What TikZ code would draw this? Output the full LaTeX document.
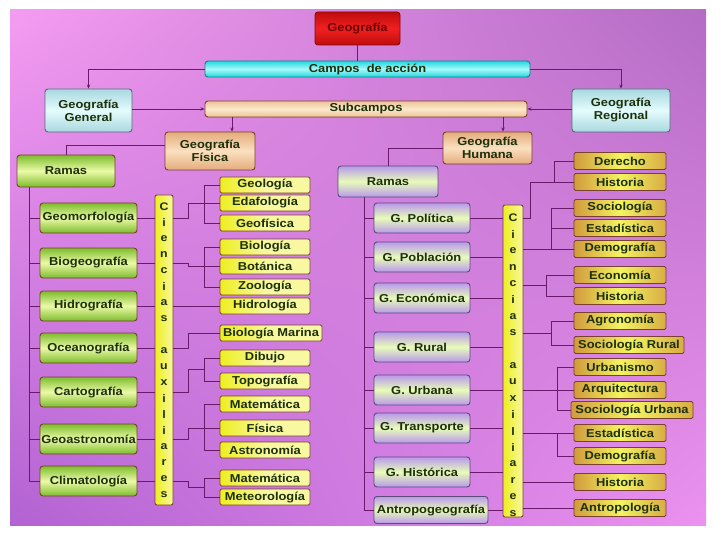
\documentclass[tikz,border=0pt]{standalone}
\usepackage{fontspec}
\newfontfamily\boxfont{Liberation Sans}[FakeStretch=1.12]
\usetikzlibrary{arrows.meta,calc,shadings}

\definecolor{bgTL}{HTML}{F59CF2}
\definecolor{bgTR}{HTML}{B46CC4}
\definecolor{bgBL}{HTML}{B262D2}
\definecolor{bgBR}{HTML}{EC92F0}
\definecolor{linepurple}{HTML}{6A1A6A}
\definecolor{txtgreen}{HTML}{1C300A}
\definecolor{red1}{HTML}{F02020}
\definecolor{red2}{HTML}{C00C0C}
\definecolor{darkred}{HTML}{6A0000}
\definecolor{cyan1}{HTML}{A8F8F8}
\definecolor{cyan2}{HTML}{20D8E0}
\definecolor{celeste1}{HTML}{E4FCFC}
\definecolor{celeste2}{HTML}{A8D8E0}
\definecolor{tan1}{HTML}{FAE0C0}
\definecolor{tan2}{HTML}{E4AC7C}
\definecolor{bar1}{HTML}{FCE8CC}
\definecolor{bar2}{HTML}{ECC498}
\definecolor{green1}{HTML}{ECFAA8}
\definecolor{green2}{HTML}{7CBC2C}
\definecolor{lila1}{HTML}{E8FCB8}
\definecolor{lila2}{HTML}{B898EC}
\definecolor{yel1}{HTML}{F8F8A0}
\definecolor{yel2}{HTML}{EEEE20}
\definecolor{ocre1}{HTML}{F4F460}
\definecolor{ocre2}{HTML}{D09A3C}
\definecolor{brownline}{HTML}{7A4030}

\tikzset{
  conn/.style={draw=linepurple, line width=0.9pt},
  arr/.style={conn, -{Stealth[length=4pt,width=3.5pt]}},
  box/.style={rounded corners=3pt, draw=brownline, line width=0.9pt, inner sep=0pt,
    align=center, text=txtgreen,
    font=\boxfont\bfseries\fontsize{11.5}{13}\selectfont},
  rojo/.style={box, draw=red2!70!black, top color=red2, bottom color=red2, middle color=red1,
    text=darkred, minimum width=85, minimum height=33},
  barcyan/.style={box, draw=cyan2!60!black, top color=cyan2, bottom color=cyan2, middle color=cyan1,
    minimum width=325, minimum height=16},
  bartan/.style={box, top color=bar2, bottom color=bar2, middle color=bar1,
    minimum width=322, minimum height=16},
  celeste/.style={box, draw=celeste2!50!black, top color=celeste2, bottom color=celeste2,
    middle color=celeste1, minimum width=87, minimum height=43},
  tan/.style={box, top color=tan2, bottom color=tan2, middle color=tan1,
    minimum width=90, minimum height=38},
  verde/.style={box, top color=green2, bottom color=green2, middle color=green1,
    minimum width=97, minimum height=30},
  lila/.style={box, draw=lila2!50!black, top color=lila2, bottom color=lila2, middle color=lila1,
    minimum width=96, minimum height=30},
  auxL/.style={box, rounded corners=1.5pt, left color=yel2, right color=yel1, middle color=yel1,
    minimum width=90, minimum height=16},
  auxR/.style={box, rounded corners=1.5pt, left color=ocre2, right color=ocre2!80!ocre1, middle color=ocre1,
    minimum width=92, minimum height=17},
  cbar/.style={box, rounded corners=2pt, left color=yel2, right color=yel1,
    minimum width=18},
  letra/.style={inner sep=0pt, text=txtgreen, font=\boxfont\bfseries\fontsize{11}{11}\selectfont}
}

\begin{document}
\begin{tikzpicture}[x=1pt,y=-1pt]
\useasboundingbox (0,0) rectangle (720,540);

% background
\shade [upper left=bgTL, upper right=bgTR, lower left=bgBL, lower right=bgBR] (10,10) rectangle (706,525);

% top of the map
\node [rojo] (geo) at (357.5,28.5) {Geografía};
\node [barcyan] (campos) at (367.5,69) {Campos\ \ de acción};
\node [celeste] (gral) at (88.5,110.5) {Geografía\\General};
\node [celeste, minimum width=98] (reg) at (621,110.5) {Geografía\\Regional};
\node [bartan] (subc) at (366,109) {Subcampos};
\node [tan] (fisica) at (210,151) {Geografía\\Física};
\node [tan, minimum width=89, minimum height=32] (humana) at (487.5,148) {Geografía\\Humana};
\node [verde, minimum width=98, minimum height=32] (ramasL) at (66,171) {Ramas};
\node [lila, minimum width=100, minimum height=31] (ramasR) at (388,181.5) {Ramas};

\draw [conn] (geo.south) -- (geo.south |- campos.north);
\draw [arr] (campos.west) -| (gral.north);
\draw [arr] (campos.east) -| (reg.north);
\draw [arr] (gral.east |- subc.west) -- (subc.west);
\draw [arr] (reg.west |- subc.east) -- (subc.east);
\coordinate (fa) at ([xshift=22pt]fisica.north);
\coordinate (ha) at ([xshift=15.5pt]humana.north);
\draw [arr] (fa |- subc.south) -- (fa);
\draw [arr] (ha |- subc.south) -- (ha);
\draw [conn] ([yshift=6pt]fisica.west) -| (ramasL.north);
\draw [conn] (humana.west) -| (ramasR.north);

% ramas, geografia fisica
\node [verde] (geomorf) at (88.5,218) {Geomorfología};
\node [verde] (biogeo) at (88.5,263) {Biogeografía};
\node [verde] (hidrog) at (88.5,306) {Hidrografía};
\node [verde] (ocean) at (88.5,348) {Oceanografía};
\node [verde] (carto) at (88.5,392) {Cartografía};
\node [verde] (geoastro) at (88.5,439) {Geoastronomía};
\node [verde] (clima) at (88.5,481) {Climatología};

\draw [conn] ([xshift=13pt]ramasL.south west) |- (clima.west);
\foreach \n in {geomorf,biogeo,hidrog,ocean,carto,geoastro}
  \draw [conn] (\n.west) -- ++(-10,0);

% ciencias auxiliares (left)
\node [cbar, minimum height=310] (cienL) at (164,350) {};
\foreach \l [count=\i] in {C,i,e,n,c,i,a,s,{},a,u,x,i,l,i,a,r,e,s}
  \node [letra] (cl\i) at (164,{207+(\i-1)*16}) {\l};

\foreach \n in {geomorf,biogeo,hidrog,ocean,carto,geoastro,clima}
  \draw [conn] (\n.east) -- (\n.east -| cienL.west);

\node [auxL] (geol) at (265,185) {Geología};
\node [auxL] (edaf) at (265,203) {Edafología};
\node [auxL] (geof) at (265,223) {Geofísica};
\node [auxL] (biol) at (265,247) {Biología};
\node [auxL] (bota) at (265,266) {Botánica};
\node [auxL] (zool) at (265,287) {Zoología};
\node [auxL] (hidrol) at (265,306) {Hidrología};
\node [auxL, minimum width=102] (biomar) at (271,333) {Biología Marina};
\node [auxL] (dibu) at (265,358) {Dibujo};
\node [auxL] (topo) at (265,381) {Topografía};
\node [auxL] (mate1) at (265,404) {Matemática};
\node [auxL] (fisi) at (265,428) {Física};
\node [auxL] (astro) at (265,450) {Astronomía};
\node [auxL] (mate2) at (265,478) {Matemática};
\node [auxL] (meteo) at (265,497) {Meteorología};

  % geomorfologia
\draw [conn] (cienL.east |- geomorf.east) -- ++(15,0) |- (edaf.west);
\draw [conn] (geol.west) -- ++(-15,0) |- (geof.west);
  % biogeografia
\draw [conn] (cienL.east |- biogeo.east) -- ++(15,0) |- (bota.west);
\draw [conn] (biol.west) -- ++(-15,0) |- (zool.west);
  % hidrografia
\draw [conn] (cienL.east |- hidrol.west) -- (hidrol.west);
  % oceanografia
\draw [conn] (cienL.east |- ocean.east) -- ++(15,0) |- (biomar.west);
  % cartografia
\coordinate (mcar) at ($(dibu.west)!.5!(topo.west)+(-15,0)$);
\draw [conn] (cienL.east |- carto.east) -- ++(15,0) |- (mcar);
\draw [conn] (dibu.west) -- ++(-15,0) |- (topo.west);
  % geoastronomia
\draw [conn] (cienL.east |- geoastro.east) -- ++(15,0) |- (fisi.west);
\draw [conn] (mate1.west) -- ++(-15,0) |- (astro.west);
  % climatologia
\coordinate (mcli) at ($(mate2.west)!.5!(meteo.west)+(-15,0)$);
\draw [conn] (cienL.east |- clima.east) -- ++(15,0) |- (mcli);
\draw [conn] (mate2.west) -- ++(-15,0) |- (meteo.west);

% ramas, geografia humana
\node [lila] (pol) at (422,218) {G. Política};
\node [lila] (pob) at (422,257) {G. Población};
\node [lila] (eco) at (422,298) {G. Económica};
\node [lila] (rur) at (422,347) {G. Rural};
\node [lila] (urb) at (422,390) {G. Urbana};
\node [lila] (tra) at (422,428) {G. Transporte};
\node [lila] (his) at (422,472) {G. Histórica};
\node [lila, minimum width=114, minimum height=27] (antg) at (431,510) {Antropogeografía};

\draw [conn] ([xshift=27pt]ramasR.south west) |- (antg.west);
\foreach \n in {pol,pob,eco,rur,urb,tra,his}
  \draw [conn] (\n.west) -- ++(-9,0);

% ciencias auxiliares (right)
\node [cbar, minimum width=20, minimum height=312] (cienR) at (513,361) {};
\foreach \l [count=\i] in {C,i,e,n,c,i,a,s,{},a,u,x,i,l,i,a,r,e,s}
  \node [letra] (cr\i) at (513,{218+(\i-1)*16.4}) {\l};

\foreach \n in {pol,pob,eco,rur,urb,tra,his,antg}
  \draw [conn] (\n.east) -- (\n.east -| cienR.west);

\node [auxR] (dere) at (620,161) {Derecho};
\node [auxR] (hist1) at (620,182) {Historia};
\node [auxR] (soci) at (620,208) {Sociología};
\node [auxR] (esta1) at (620,228) {Estadística};
\node [auxR] (demo1) at (620,249) {Demografía};
\node [auxR] (econ) at (620,275) {Economía};
\node [auxR] (hist2) at (620,296) {Historia};
\node [auxR] (agro) at (620,321) {Agronomía};
\node [auxR, minimum width=110] (socrur) at (629,345) {Sociología Rural};
\node [auxR] (urba) at (620,367) {Urbanismo};
\node [auxR] (arqu) at (620,390) {Arquitectura};
\node [auxR, minimum width=122] (socurb) at (632,410) {Sociología Urbana};
\node [auxR] (esta2) at (620,433) {Estadística};
\node [auxR] (demo2) at (620,456) {Demografía};
\node [auxR] (hist3) at (620,482) {Historia};
\node [auxR] (antro) at (620,508) {Antropología};

  % politica
\draw [conn] (cienR.east |- pol.east) -- ++(7,0) |- (hist1.west);
\draw [conn] (dere.west) -- ++(-19,0) |- (hist1.west);
  % poblacion
\draw [conn] (cienR.east |- demo1.west) -- (demo1.west);
\draw [conn] (soci.west) -- ++(-22,0) |- (demo1.west);
\draw [conn] (esta1.west) -- ++(-22,0);
  % economica
\coordinate (meco) at ($(econ.west)!.5!(hist2.west)+(-27,0)$);
\draw [conn] (cienR.east |- meco) -- (meco);
\draw [conn] (econ.west) -- ++(-27,0) |- (hist2.west);
  % rural
\coordinate (mrur) at ($(agro.west)!.5!(socrur.west)+(-22,0)$);
\draw [conn] (cienR.east |- mrur) -- (mrur);
\draw [conn] (agro.west) -- ++(-22,0) |- (socrur.west);
  % urbana
\draw [conn] (cienR.east |- arqu.west) -- (arqu.west);
\draw [conn] (urba.west) -- ++(-16,0) |- (socurb.west);
  % transporte
\draw [conn] (cienR.east |- esta2.west) -- (esta2.west);
\draw [conn] (esta2.west) -- ++(-16,0) |- (demo2.west);
  % historica, antropogeografia
\draw [conn] (cienR.east |- hist3.west) -- (hist3.west);
\draw [conn] (cienR.east |- antro.west) -- (antro.west);

\end{tikzpicture}
\end{document}
